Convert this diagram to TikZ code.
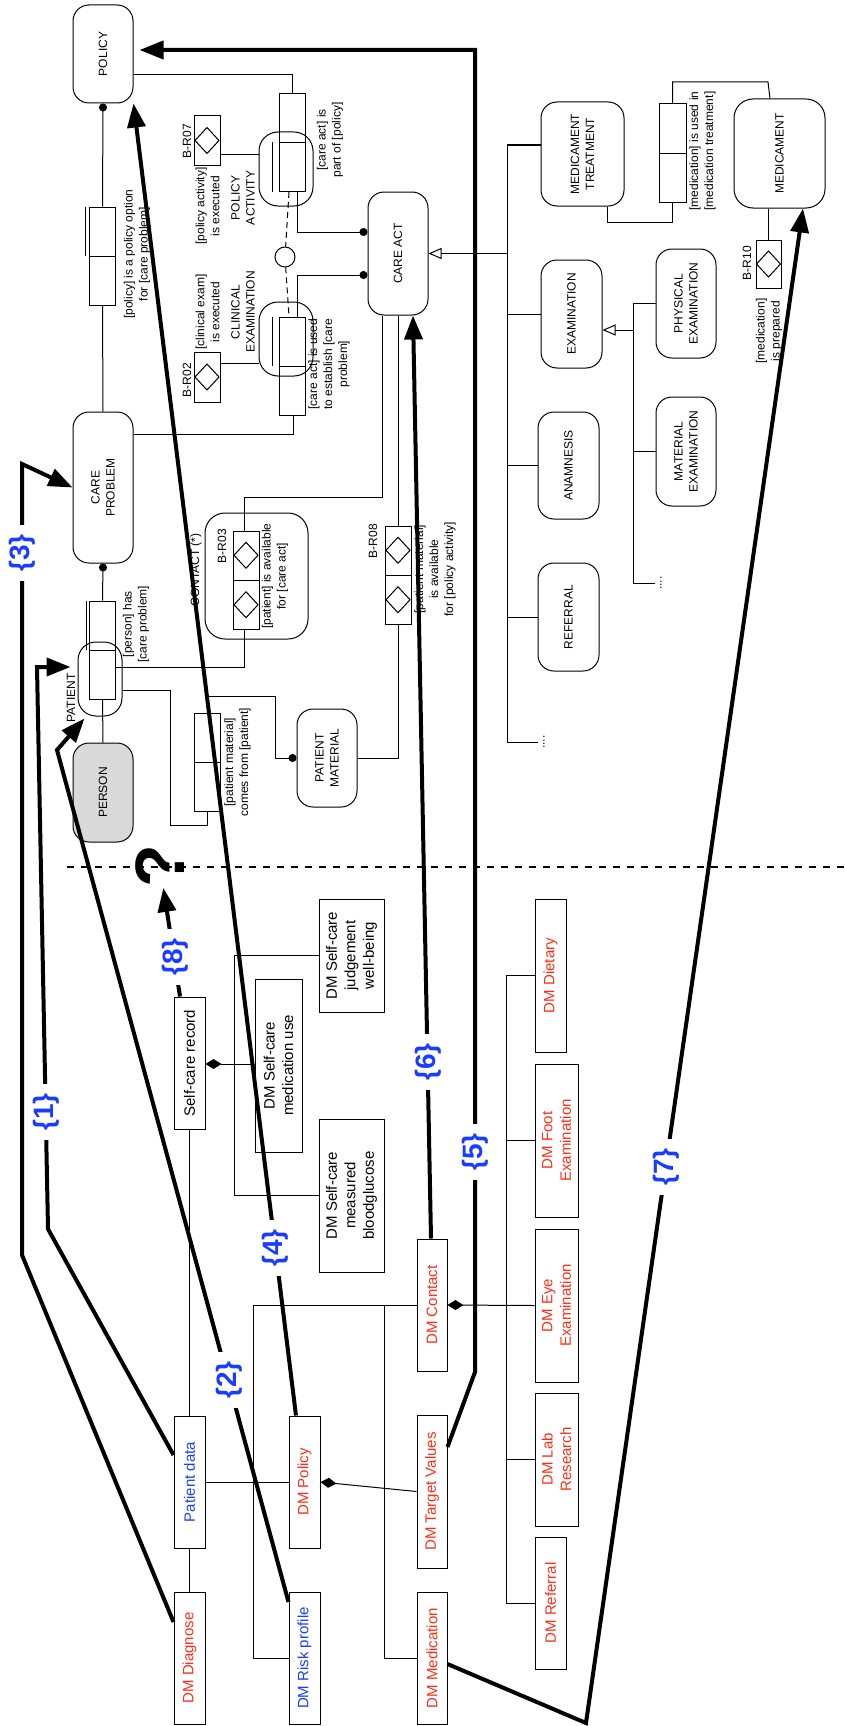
\documentclass[tikz,border=0pt]{standalone}
\usepackage{fontspec}
\setmainfont{Liberation Sans}
\usepackage{xcolor}
\usetikzlibrary{arrows.meta,calc}
\definecolor{dmred}{RGB}{255,45,20}
\definecolor{dmblue}{RGB}{25,60,255}

\begin{document}
\begin{tikzpicture}[x=1pt, y=-1pt, line width=1pt,
    every node/.style={rotate=90, inner sep=0pt, align=center},
    ent/.style={draw, rounded corners=16pt, font=\fontsize{12}{15}\selectfont},
    rel/.style={draw, minimum width=98pt, minimum height=26pt},
    obj/.style={draw, rounded corners=19pt, minimum width=74pt, minimum height=54pt},
    rule/.style={draw, minimum height=26pt},
    lbl/.style={font=\fontsize{12}{15}\selectfont},
    dm/.style={draw, minimum height=31pt, font=\fontsize{15}{18.5}\selectfont},
    trace/.style={line width=4pt, -{Triangle[length=24pt,width=18pt]}},
    num/.style={fill=white, inner xsep=9pt, inner ysep=1pt, text=dmblue, font=\fontsize{28}{28}\selectfont\bfseries},
    dotend/.style={-{Circle[length=8pt]}},
    comp/.style={{Diamond[length=16pt,width=10pt]}-},
    isa/.style={-{Triangle[open,length=13pt,width=11pt]}}]
  \useasboundingbox (0,0) rectangle (845,1726);

  \node[ent, minimum width=98pt, minimum height=60pt] (policy) at (103,54) {POLICY};
  \node[ent, minimum width=151pt, minimum height=60pt] (careprob) at (103,487.5) {CARE\\PROBLEM};
  \node[ent, fill=black!15, minimum width=99pt, minimum height=60pt] (person) at (103,792.5) {PERSON};
  \node[ent, minimum width=123pt, minimum height=60pt] (careact) at (398,253.5) {CARE ACT};
  \node[ent, minimum width=98pt, minimum height=60pt] (patmat) at (327,758) {PATIENT\\MATERIAL};
  \node[ent, minimum width=104pt, minimum height=83pt] (medtreat) at (582.5,154) {MEDICAMENT\\TREATMENT};
  \node[ent, minimum width=109pt, minimum height=91pt, rounded corners=19pt] (medic) at (779.5,153.5) {MEDICAMENT};
  \node[ent, minimum width=108pt, minimum height=61pt] (exam) at (571.5,314) {EXAMINATION};
  \node[ent, minimum width=109pt, minimum height=60pt] (physexam) at (686,303.5) {PHYSICAL\\EXAMINATION};
  \node[ent, minimum width=109pt, minimum height=60pt] (matexam) at (686,451.5) {MATERIAL\\EXAMINATION};
  \node[ent, minimum width=107pt, minimum height=61pt] (anamn) at (568.5,465.5) {ANAMNESIS};
  \node[ent, minimum width=108pt, minimum height=61pt] (referral) at (568.5,617) {REFERRAL};
  \node[lbl] (gdots) at (544,742) {....};
  \node[lbl] (edots) at (661,583) {....};

  \node[rel] (rpo) at (102.5,256) {};
  \node[rel] (rpa) at (292,142.5) {};
  \node[rel] (rce) at (292,366) {};
  \node[rel] (rph) at (102.5,650) {};
  \node[rel] (rpm) at (207,762) {};
  \node[rel, minimum height=27pt] (rmt) at (672.5,153) {};
  \foreach \r in {rpo,rpa,rce,rph,rpm,rmt}
    \draw (\r.north) -- (\r.south);
  \foreach \r/\d/\c in {rpo/4/north east, rpa/6/north west, rce/6/north east, rph/3/north east}
    \draw ([xshift=-\d pt]\r.\c) -- ([xshift=-\d pt]\r.north);

  \node[obj] (opa) at (286,169) {};
  \node[obj] (oce) at (286,339) {};
  \node[obj, minimum height=44pt, rounded corners=18pt] (opat) at (100,679) {};
  \node[draw, rounded corners=20pt, minimum width=126pt, minimum height=103pt] (contact) at (256.5,576) {};
  \node[draw, circle, minimum size=20pt] (link) at (285,257) {};

  \node[rule, minimum width=49pt] (br07) at (207,140.5) {};
  \node[rule, minimum width=50pt] (br02) at (207,377) {};
  \node[rule, minimum width=98pt] (br03) at (246,580) {};
  \node[rule, minimum width=98pt] (br08) at (398,575) {};
  \node[rule, minimum width=48pt, minimum height=25pt] (br10) at (768.5,264) {};
  \draw (br03.north) -- (br03.south);
  \draw (br08.north) -- (br08.south);
  \coordinate (d1) at ($(br03.center)!.5!(br03.east)$);
  \coordinate (d2) at ($(br03.center)!.5!(br03.west)$);
  \coordinate (d3) at ($(br08.center)!.5!(br08.east)$);
  \coordinate (d4) at ($(br08.center)!.5!(br08.west)$);
  \foreach \d in {br07,br02,br10,d1,d2,d3,d4}
    \draw (\d.center) +(-12,0) -- +(0,-13) -- +(12,0) -- +(0,13) -- cycle;

  \node[lbl] at (137,254) {[policy] is a policy option\\for [care problem]};
  \node[lbl] at (330,140) {[care act] is\\part of [policy]};
  \node[lbl] at (207.5,206) {[policy activity]\\is executed};
  \node[lbl] at (243,198) {POLICY\\ACTIVITY};
  \node[lbl] at (207.5,312) {[clinical exam]\\is executed};
  \node[lbl] at (243,312) {CLINICAL\\EXAMINATION};
  \node[lbl] at (329,364) {[care act] is used\\to establish [care\\problem]};
  \node[lbl] at (187,141) {B-R07};
  \node[lbl] at (187,380) {B-R02};
  \node[lbl] at (222,546) {B-R03};
  \node[lbl] at (373,541) {B-R08};
  \node[lbl] at (747,263) {B-R10};
  \node[lbl] at (136,624) {[person] has\\{}[care problem]};
  \node[lbl] at (71,698) {PATIENT};
  \node[lbl] at (196,570) {CONTACT (*)};
  \node[lbl] at (275,576) {[patient] is available\\for [care act]};
  \node[lbl] at (237.5,762) {[patient material]\\comes from [patient]};
  \node[lbl] at (435,569) {[patient material]\\is available\\for [policy activity]};
  \node[lbl] at (702.5,151) {[medication] is used in\\{}[medication treatment]};
  \node[lbl] at (769,331) {[medication]\\is prepared};

  \draw[dotend] (rpo.east) -- (policy.west);
  \draw (rpo.west) -- (careprob.east);
  \draw (policy.south |- 0,75) -| (rpa.east);
  \draw[dotend] (rpa.west -| 297,0) |- (careact.north |- 0,232);
  \draw[dotend] (rce.east -| 297,0) |- (careact.north |- 0,275);
  \draw[dashed, dash pattern=on 6pt off 4pt] (rpa.west -| 289,0) -- (link) -- (rce.east -| 289,0);
  \draw (rce.west -| 293,0) |- (careprob.south |- 0,434);
  \draw (br07.south |- 0,154) -- (opa.north |- 0,154);
  \draw (br02.south |- 0,363) -- (oce.north |- 0,363);
  \draw[dotend] (rph.east) -- (careprob.west);
  \draw (rph.west) -- (person.east);
  \draw (rph.south |- 0,667) -| (br03.west -| 244,0);
  \draw (br03.east -| 244,0) -- ++(0,-33) -| (careact.west -| 382,0);
  \draw (opat.south |- 0,690) -| (170,825) -| (rpm.west);
  \draw[dotend] (rpm.east) |- (275,696) |- (patmat.north);
  \draw (patmat.south) -| (br08.west);
  \draw (br08.east) -- (careact.west -| br08.east);

  \draw[isa] (careact.south -| 507,0) -- (careact.south);
  \draw (medtreat.north |- 0,145) -| (507,742) -- ([xshift=-5pt]gdots.north);
  \foreach \n in {exam,anamn,referral}
    \draw (\n.north) -- (\n.north -| 507,0);
  \draw[isa] (633,330) -- (exam.south |- 0,330);
  \draw (physexam.north) -| (633,583) -- ([xshift=-5pt]edots.north);
  \draw (matexam.north) -- (matexam.north -| 633,0);
  \draw (medtreat.west -| 607,0) |- (rmt.west |- 0,222) -- (rmt.west);
  \draw (rmt.east) |- (768,82) -- (medic.east -| 770,0);
  \draw (medic.west -| br10.center) -- (br10.east);

  \draw[dashed, line width=1.2pt, dash pattern=on 7pt off 7pt] (67,867) -- (845,867);
  \node[font=\fontsize{70}{70}\selectfont\bfseries] (quest) at (160,866) {?};

  \node[dm, minimum width=132pt] (selfcare) at (189.5,1063) {Self-care record};
  \node[dm, minimum width=173pt, minimum height=47pt] (medu) at (278.5,1065.5) {DM Self-care\\medication use};
  \node[dm, minimum width=113pt, minimum height=65pt] (judge) at (351.5,955.5) {DM Self-care\\judgement\\well-being};
  \node[dm, minimum width=153pt, minimum height=65pt] (measured) at (351.5,1195.5) {DM Self-care\\measured\\bloodglucose};
  \node[dm, minimum width=132pt, text=dmblue] (patdata) at (189.5,1482) {Patient data};
  \node[dm, minimum width=132pt, text=dmred] (dmdiag) at (189.5,1658) {DM Diagnose};
  \node[dm, minimum width=132pt, text=dmred] (dmpolicy) at (304.5,1482) {DM Policy};
  \node[dm, minimum width=132pt, text=dmblue] (dmrisk) at (304.5,1658) {DM Risk profile};
  \node[dm, minimum width=132pt, minimum height=30pt, text=dmred] (dmcontact) at (432,1305) {DM Contact};
  \node[dm, minimum width=153pt, minimum height=30pt, text=dmred] (dmtarget) at (432,1491.5) {DM Target Values};
  \node[dm, minimum width=132pt, minimum height=30pt, text=dmred] (dmmed) at (432,1658) {DM Medication};
  \node[dm, minimum width=153pt, text=dmred] (dmdiet) at (550.5,975.5) {DM Dietary};
  \node[dm, minimum width=153pt, minimum height=43pt, text=dmred] (dmfoot) at (556.5,1140.5) {DM Foot\\Examination};
  \node[dm, minimum width=153pt, minimum height=43pt, text=dmred] (dmeye) at (556.5,1305.5) {DM Eye\\Examination};
  \node[dm, minimum width=133pt, minimum height=43pt, text=dmred] (dmlab) at (556.5,1459.5) {DM Lab\\Research};
  \node[dm, minimum width=132pt, text=dmred] (dmref) at (550.5,1603) {DM Referral};

  \draw (selfcare.west) -- (patdata.east);
  \draw (patdata.west) -- (dmdiag.east);
  \draw (patdata.south) -- (dmpolicy.north);
  \draw[comp] (selfcare.south |- 0,1064) -- (medu.north |- 0,1064);
  \draw (judge.north) -- ++(-84,0) |- (measured.north);
  \draw[comp] (dmpolicy.south) -- (dmtarget.north);
  \draw (dmrisk.north) -- ++(-35,0) |- (dmcontact.north);
  \draw (dmmed.north) -| (dmcontact.north -| 384,0);
  \draw[comp] (dmcontact.south) -- (dmeye.north);
  \draw (dmdiet.north) -- ++(-28,0) |- (dmref.north);
  \foreach \n in {dmfoot,dmlab}
    \draw (\n.north) -- ++(-28,0);

  \draw[trace, shorten >=7pt] (patdata.north |- 0,1455) -- (48,1229) -- (37,667) -- (opat.north |- 0,667);
  \draw[trace] (dmrisk.north |- 0,1602) -- (57,750) -- ($(opat.north west)+(7,2)$);
  \draw[trace] (dmdiag.north |- 0,1622) -- (22,1255) -- (22,464) -- (careprob.north);
  \draw[trace] (dmpolicy.east -| 296,0) -- (policy.south west);
  \draw[trace, shorten >=6pt] (dmtarget.south |- 0,1447) -- (475,1372) -- (475,50) -- (policy.south |- 0,50);
  \draw[trace] (dmcontact.east -| 431,0) -- (careact.west -| 413,0);
  \draw[trace] (dmmed.south |- 0,1664) -- (586,1723) -- (medic.west -| 803,0);
  \draw[trace] (selfcare.east -| 180,0) -- (quest);

  \node[num] at (46,1112) {\{1\}};
  \node[num] at (229,1380) {\{2\}};
  \node[num] at (22,553) {\{3\}};
  \node[num] at (275,1248) {\{4\}};
  \node[num] at (475,1152) {\{5\}};
  \node[num] at (428,1062) {\{6\}};
  \node[num] at (666,1167) {\{7\}};
  \node[num] at (175,957) {\{8\}};
\end{tikzpicture}
\end{document}
